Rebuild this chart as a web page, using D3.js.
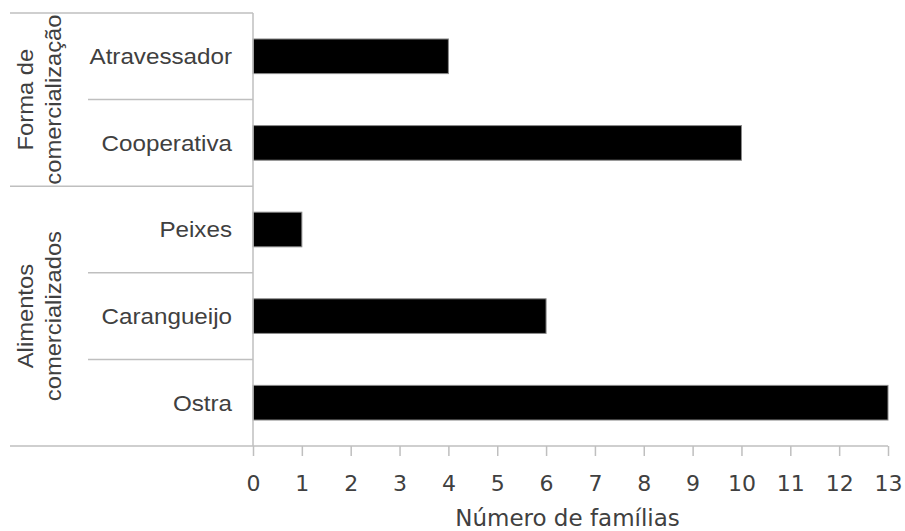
<!DOCTYPE html>
<html><head><meta charset="utf-8">
<script src="https://cdn.jsdelivr.net/npm/d3@7/dist/d3.min.js"></script>
<style>body{margin:0;background:#fff}svg{display:block}</style>
</head><body>
<svg id="c" width="905" height="531"></svg>
<script>
const categories = ["Atravessador","Cooperativa","Peixes","Carangueijo","Ostra"];
const values = [4,10,1,6,13];
const groups = [["Forma de","comercialização"],["Alimentos","comercializados"]];
const groupMembers = [["Atravessador","Cooperativa"],["Peixes","Carangueijo","Ostra"]];
const ticks = [0,1,2,3,4,5,6,7,8,9,10,11,12,13];
const xTitle = "Número de famílias";

const svg = d3.select("#c");
const mLeft = 253, mRight = 888, mTop = 13, mBottom = 446;
const gridCol = "#bfbfbf", textCol = "#404040";
const x = d3.scaleLinear().domain([0,13]).range([mLeft,mRight]);
const y = d3.scaleBand().domain(categories).range([mTop,mBottom]).paddingInner(0.6).paddingOuter(0.3);
const yRow = d3.scaleBand().domain(categories).range([mTop,mBottom]).padding(0);

// bars
svg.selectAll("rect.bar").data(categories).join("rect")
  .attr("x", x(0)).attr("y", d=>y(d))
  .attr("width", (d,i)=>x(values[i])-x(0)).attr("height", y.bandwidth())
  .attr("fill","#000").attr("stroke","#8a8a8a").attr("stroke-width",1);

// x axis
const ax = svg.append("g").attr("transform",`translate(0,${mBottom})`)
  .call(d3.axisBottom(x).tickValues(ticks).tickSize(10).tickPadding(19).tickFormat(d3.format("d")));
ax.select(".domain").remove();
ax.selectAll(".tick line").attr("stroke",gridCol).attr("stroke-width",1.5);
ax.selectAll(".tick text").attr("fill",textCol).style("font-family","DejaVu Sans").style("font-size","22px");
svg.append("line").attr("x1",10).attr("x2",mRight).attr("y1",mBottom).attr("y2",mBottom).attr("stroke",gridCol).attr("stroke-width",1.5);
svg.append("line").attr("x1",mLeft).attr("x2",mLeft).attr("y1",mTop).attr("y2",mBottom).attr("stroke",gridCol).attr("stroke-width",1.5);
svg.append("line").attr("x1",10).attr("x2",mLeft).attr("y1",mTop).attr("y2",mTop).attr("stroke",gridCol).attr("stroke-width",1.5);

// separators and group labels
groupMembers.forEach((m,gi)=>{
  m.forEach((c,ci)=>{
    if(ci>0){
      svg.append("line").attr("x1",88).attr("x2",mLeft).attr("y1",yRow(c)).attr("y2",yRow(c)).attr("stroke",gridCol).attr("stroke-width",1.5);
    }
  });
  if(gi>0){
    svg.append("line").attr("x1",10).attr("x2",mLeft).attr("y1",yRow(m[0])).attr("y2",yRow(m[0])).attr("stroke",gridCol).attr("stroke-width",1.5);
  }
  const y0 = yRow(m[0]), y1 = yRow(m[m.length-1]) + yRow.bandwidth();
  const cy = (y0+y1)/2;
  const t = svg.append("text").attr("transform",`translate(40,${cy}) rotate(-90) scale(1.08,1)`)
    .attr("text-anchor","middle").attr("fill",textCol)
    .style("font-family","Liberation Sans").style("font-size","22px");
  groups[gi].forEach((ln,li)=>{
    t.append("tspan").attr("x",0).attr("y", li===0 ? -7 : 21).text(ln);
  });
});

// category labels
svg.selectAll("text.cat").data(categories).join("text")
  .attr("transform",d=>`translate(232,${yRow(d)+yRow.bandwidth()/2}) scale(1.1,1)`)
  .attr("dy","0.36em")
  .attr("text-anchor","end").attr("fill",textCol)
  .style("font-family","Liberation Sans").style("font-size","22px").text(d=>d);

// title
svg.append("text").attr("x",(mLeft+mRight)/2 - 3).attr("y",526).attr("text-anchor","middle")
  .attr("fill",textCol).style("font-family","DejaVu Sans").style("font-size","23px").text(xTitle);
</script>
</body></html>
